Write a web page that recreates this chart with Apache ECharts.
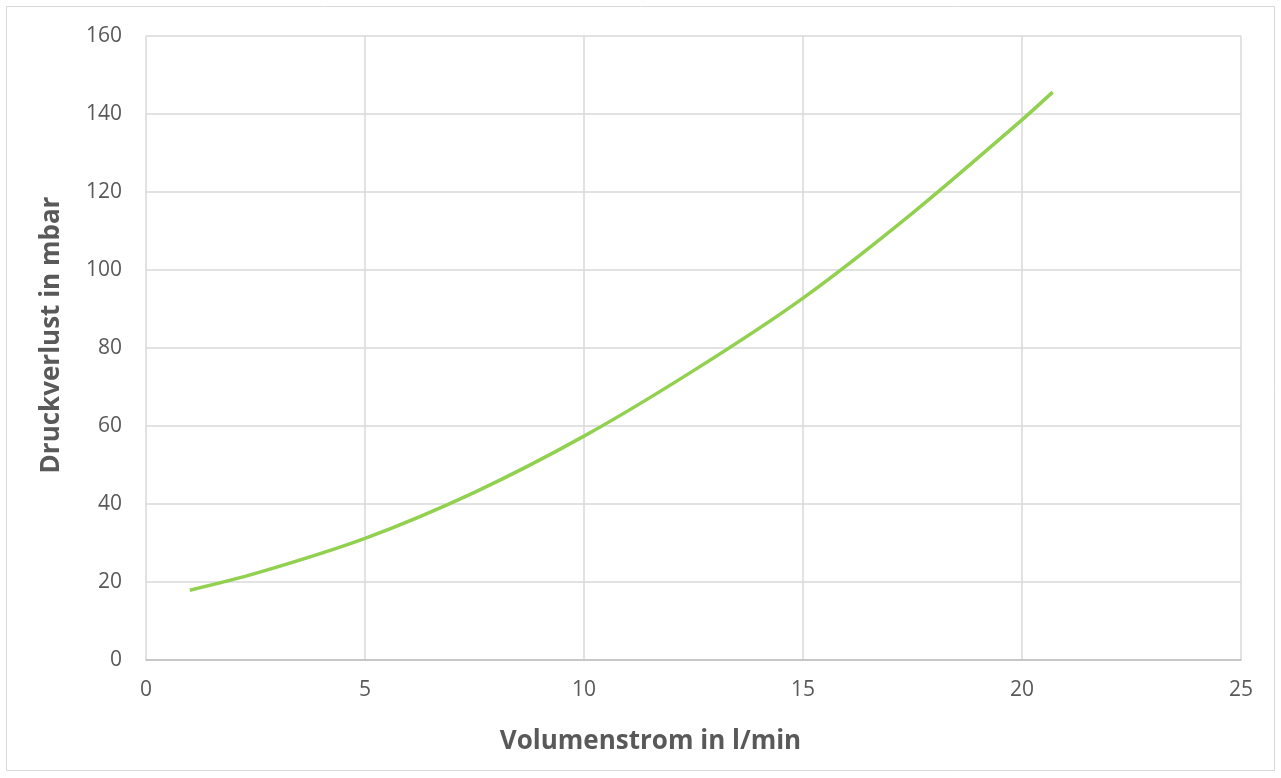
<!DOCTYPE html>
<html><head><meta charset="utf-8">
<script src="https://cdn.jsdelivr.net/npm/echarts@6/dist/echarts.min.js"></script>
<style>html,body{margin:0;padding:0;background:#fff}#c{width:1281px;height:778px}</style>
</head><body><div id="c"></div>
<script>
const flow = [1, 2.5, 5, 7.5, 10, 12.5, 15, 17.5, 20, 20.7];
const pressure = [17.9, 22.2, 31.2, 43.0, 57.4, 74.2, 92.8, 114.6, 138.5, 145.6];
const xTitle = 'Volumenstrom in l/min';
const yTitle = 'Druckverlust in mbar';

const chart = echarts.init(document.getElementById('c'));
const font = '"Open Sans", sans-serif';
chart.setOption({
  animation: false,
  graphic: [{type:'rect', shape:{x:6.5,y:6.5,width:1268,height:764}, style:{fill:'none', stroke:'#d9d9d9', lineWidth:1}}],
  grid: {left:146, right:40, top:36, bottom:118},
  xAxis: {
    type:'value', min:0, max:25, interval:5,
    name: xTitle, nameLocation:'middle', nameGap:69,
    nameTextStyle:{fontFamily:font, fontWeight:'bold', fontSize:26, color:'#595959', padding:[0,86,0,0]},
    axisLine:{show:true, lineStyle:{color:'#bfbfbf', width:1.5}},
    axisTick:{show:false},
    axisLabel:{fontFamily:font, fontSize:21, color:'#595959', margin:20},
    splitLine:{show:true, lineStyle:{color:'#d9d9d9', width:1.5}}
  },
  yAxis: {
    type:'value', min:0, max:160, interval:20,
    name: yTitle, nameLocation:'middle', nameGap:81,
    nameTextStyle:{fontFamily:font, fontWeight:'bold', fontSize:26, color:'#595959', padding:[0,0,0,26]},
    axisLine:{show:false}, axisTick:{show:false},
    axisLabel:{fontFamily:font, fontSize:21, color:'#595959', margin:24},
    splitLine:{show:true, lineStyle:{color:'#d9d9d9', width:1.5}}
  },
  series: [{
    type:'line', smooth:0.3, symbol:'none',
    data: flow.map((x,i)=>[x, pressure[i]]),
    lineStyle:{color:'#92d050', width:3.5}
  }]
});
</script></body></html>
